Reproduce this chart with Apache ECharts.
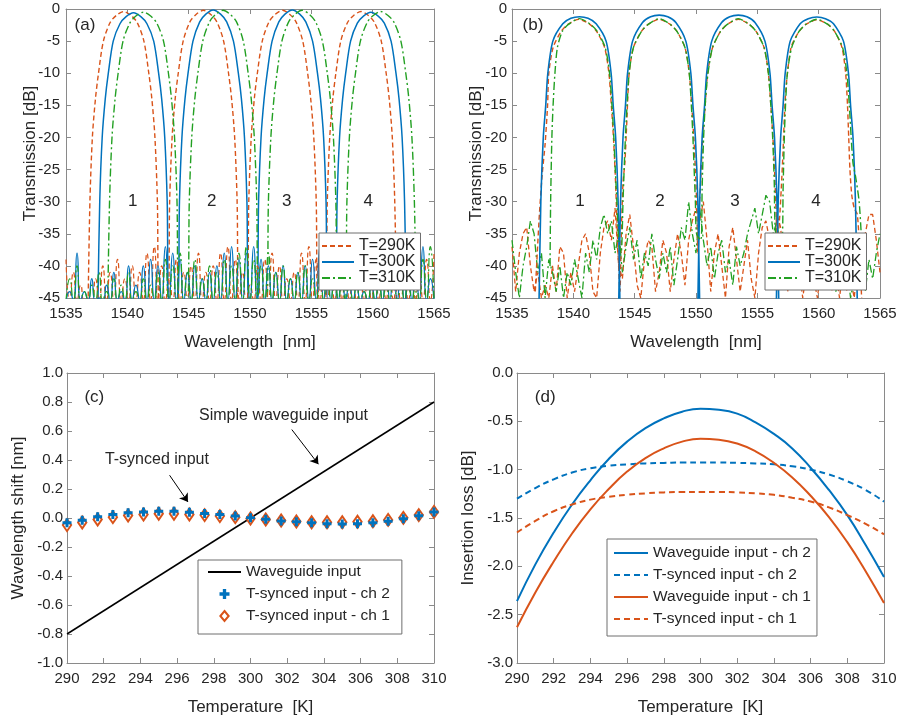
<!DOCTYPE html>
<html><head><meta charset="utf-8">
<script src="https://cdn.jsdelivr.net/npm/echarts@6.0.0/dist/echarts.min.js"></script>
<style>html,body{margin:0;padding:0;background:#fff}#c{width:901px;height:724px}</style>
</head><body><div id="c"></div><script>
// ================= DATA =================
// Panel (a): simple waveguide input, main lobes [wavelength nm, dB]
const a290 = [[1536.8,-46],[1536.95,-30],[1537.15,-20],[1537.4,-14],[1537.65,-10],[1538.05,-5],[1538.6,-2.1],[1539.1,-1.0],[1539.7,-0.4],[1540.3,-1.0],[1540.8,-2.1],[1541.35,-5],[1541.75,-10],[1542.0,-14],[1542.25,-20],[1542.45,-30],[1542.6,-46],
[1543.3,-46],[1543.45,-30],[1543.65,-20],[1543.9,-14],[1544.15,-10],[1544.55,-5],[1545.1,-2.0],[1545.6,-0.85],[1546.2,-0.2],[1546.8,-0.85],[1547.3,-2.0],[1547.85,-5],[1548.25,-10],[1548.5,-14],[1548.75,-20],[1548.95,-30],[1549.1,-46],
[1549.75,-46],[1549.9,-30],[1550.1,-20],[1550.35,-14],[1550.6,-10],[1551.0,-5],[1551.55,-2.0],[1552.05,-0.85],[1552.65,-0.2],[1553.25,-0.85],[1553.75,-2.0],[1554.3,-5],[1554.7,-10],[1554.95,-14],[1555.2,-20],[1555.4,-30],[1555.55,-46],
[1556.15,-46],[1556.3,-30],[1556.5,-20],[1556.75,-14],[1557.0,-10],[1557.4,-5],[1557.95,-2.1],[1558.45,-1.0],[1559.05,-0.4],[1559.65,-1.0],[1560.15,-2.1],[1560.7,-5],[1561.1,-10],[1561.35,-14],[1561.6,-20],[1561.8,-30],[1561.95,-46]];
const a300 = [[1537.6,-46],[1537.75,-30],[1537.95,-20],[1538.2,-14],[1538.45,-10],[1538.85,-5],[1539.4,-2.3],[1539.9,-1.2],[1540.5,-0.6],[1541.1,-1.2],[1541.6,-2.3],[1542.15,-5],[1542.55,-10],[1542.8,-14],[1543.05,-20],[1543.25,-30],[1543.4,-46],
[1544.1,-46],[1544.25,-30],[1544.45,-20],[1544.7,-14],[1544.95,-10],[1545.35,-5],[1545.9,-2.0],[1546.4,-0.8],[1547.0,-0.15],[1547.6,-0.8],[1548.1,-2.0],[1548.65,-5],[1549.05,-10],[1549.3,-14],[1549.55,-20],[1549.75,-30],[1549.9,-46],
[1550.55,-46],[1550.7,-30],[1550.9,-20],[1551.15,-14],[1551.4,-10],[1551.8,-5],[1552.35,-2.0],[1552.85,-0.8],[1553.45,-0.15],[1554.05,-0.8],[1554.55,-2.0],[1555.1,-5],[1555.5,-10],[1555.75,-14],[1556.0,-20],[1556.2,-30],[1556.35,-46],
[1556.95,-46],[1557.1,-30],[1557.3,-20],[1557.55,-14],[1557.8,-10],[1558.2,-5],[1558.75,-2.2],[1559.25,-1.1],[1559.85,-0.5],[1560.45,-1.1],[1560.95,-2.2],[1561.5,-5],[1561.9,-10],[1562.15,-14],[1562.4,-20],[1562.6,-30],[1562.75,-46]];
const a310 = [[1538.4,-46],[1538.55,-30],[1538.75,-20],[1539.0,-14],[1539.25,-10],[1539.65,-5],[1540.2,-2.2],[1540.7,-1.1],[1541.3,-0.5],[1541.9,-1.1],[1542.4,-2.2],[1542.95,-5],[1543.35,-10],[1543.6,-14],[1543.85,-20],[1544.05,-30],[1544.2,-46],
[1544.9,-46],[1545.05,-30],[1545.25,-20],[1545.5,-14],[1545.75,-10],[1546.15,-5],[1546.7,-2.0],[1547.2,-0.85],[1547.8,-0.2],[1548.4,-0.85],[1548.9,-2.0],[1549.45,-5],[1549.85,-10],[1550.1,-14],[1550.35,-20],[1550.55,-30],[1550.7,-46],
[1551.35,-46],[1551.5,-30],[1551.7,-20],[1551.95,-14],[1552.2,-10],[1552.6,-5],[1553.15,-2.0],[1553.65,-0.85],[1554.25,-0.2],[1554.85,-0.85],[1555.35,-2.0],[1555.9,-5],[1556.3,-10],[1556.55,-14],[1556.8,-20],[1557.0,-30],[1557.15,-46],
[1557.75,-46],[1557.9,-30],[1558.1,-20],[1558.35,-14],[1558.6,-10],[1559.0,-5],[1559.55,-2.1],[1560.05,-1.0],[1560.65,-0.4],[1561.25,-1.0],[1561.75,-2.1],[1562.3,-5],[1562.7,-10],[1562.95,-14],[1563.2,-20],[1563.4,-30],[1563.55,-46]];

// sidelobe / noise floor sampling wavelengths
const sideX = [1535.0,1535.3,1535.6,1535.9,1536.2,1536.5,1536.8,1537.1,1537.4,1537.7,
1538.0,1538.3,1538.6,1538.9,1539.2,1539.5,1539.8,1540.1,1540.4,1540.7,
1541.0,1541.3,1541.6,1541.9,1542.2,1542.5,1542.8,1543.1,1543.4,1543.7,
1544.0,1544.3,1544.6,1544.9,1545.2,1545.5,1545.8,1546.1,1546.4,1546.7,
1547.0,1547.3,1547.6,1547.9,1548.2,1548.5,1548.8,1549.1,1549.4,1549.7,
1550.0,1550.3,1550.6,1550.9,1551.2,1551.5,1551.8,1552.1,1552.4,1552.7,
1553.0,1553.3,1553.6,1553.9,1554.2,1554.5,1554.8,1555.1,1555.4,1555.7,
1556.0,1556.3,1556.6,1556.9,1557.2,1557.5,1557.8,1558.1,1558.4,1558.7,
1559.0,1559.3,1559.6,1559.9,1560.2,1560.5,1560.8,1561.1,1561.4,1561.7,
1562.0,1562.3,1562.6,1562.9,1563.2,1563.5,1563.8,1564.1,1564.4,1564.7,
1565.0];
const a290Side = [-39,-45.5,-41,-45.5,-43,-45.5,-45,-45.5,-42,-45.5,
-40,-45.5,-41,-45.5,-39,-45.5,-42,-45.5,-40,-45.5,
-41,-45.5,-38,-45.5,-37,-45.5,-40,-45.5,-42,-45.5,
-39,-45.5,-41,-45.5,-40,-45.5,-38,-45.5,-41,-45.5,
-40,-45.5,-38,-45.5,-37,-45.5,-39,-45.5,-41,-45.5,
-43,-45.5,-40,-45.5,-39,-45.5,-38,-45.5,-40,-45.5,
-42,-45.5,-41,-45.5,-38,-45.5,-37,-45.5,-39,-45.5,
-41,-45.5,-42,-45.5,-40,-45.5,-38,-45.5,-40,-45.5,
-42,-45.5,-41,-45.5,-39,-45.5,-38,-45.5,-40,-45.5,
-41,-45.5,-42,-45.5,-40,-45.5,-41,-45.5,-39,-45.5,
-38];
const a300Side = [-45.5,-44,-45.5,-38,-45.5,-44,-45.5,-42,-45.5,-45,
-45.5,-43,-45.5,-41,-45.5,-44,-45.5,-40,-45.5,-43,
-45.5,-40,-45.5,-39,-45.5,-40,-45.5,-37,-45.5,-38,
-45.5,-39,-45.5,-41,-45.5,-40,-45.5,-42,-45.5,-41,
-45.5,-40,-45.5,-38,-45.5,-37,-45.5,-39,-45.5,-38,
-45.5,-37,-45.5,-39,-45.5,-40,-45.5,-41,-45.5,-40,
-45.5,-42,-45.5,-41,-45.5,-40,-45.5,-39,-45.5,-37,
-45.5,-38,-45.5,-39,-45.5,-41,-45.5,-42,-45.5,-43,
-45.5,-44,-45.5,-43,-45.5,-41,-45.5,-40,-45.5,-39,
-45.5,-40,-45.5,-41,-45.5,-39,-45.5,-37,-45.5,-42,
-45.5];
const a310Side = [-45.5,-42,-45.5,-40,-45.5,-44,-45.5,-43,-45.5,-41,
-45.5,-44,-45.5,-42,-45.5,-43,-45.5,-41,-45.5,-44,
-45.5,-42,-45.5,-43,-45.5,-41,-45.5,-39,-45.5,-40,
-45.5,-38,-45.5,-41,-45.5,-39,-45.5,-42,-45.5,-40,
-45.5,-41,-45.5,-39,-45.5,-40,-45.5,-38,-45.5,-37,
-45.5,-39,-45.5,-40,-45.5,-38,-45.5,-41,-45.5,-40,
-45.5,-42,-45.5,-41,-45.5,-40,-45.5,-42,-45.5,-41,
-45.5,-39,-45.5,-42,-45.5,-41,-45.5,-43,-45.5,-42,
-45.5,-44,-45.5,-42,-45.5,-43,-45.5,-41,-45.5,-42,
-45.5,-40,-45.5,-43,-45.5,-41,-45.5,-39,-45.5,-37,
-45.5];

// Panel (b): T-synced input
const b300 = [[1537.2,-46],[1537.35,-30],[1537.55,-20],[1537.75,-15],[1537.92,-10],[1538.33,-5],[1539.14,-2.3],[1539.8,-1.45],[1540.5,-1.2],[1541.2,-1.45],[1541.86,-2.3],[1542.67,-5],[1543.08,-10],[1543.25,-15],[1543.45,-20],[1543.65,-30],[1543.8,-46],
[1543.7,-46],[1543.85,-30],[1544.05,-20],[1544.25,-15],[1544.42,-10],[1544.83,-5],[1545.64,-2.1],[1546.3,-1.2],[1547.0,-0.95],[1547.7,-1.2],[1548.36,-2.1],[1549.17,-5],[1549.58,-10],[1549.75,-15],[1549.95,-20],[1550.15,-30],[1550.3,-46],
[1550.15,-46],[1550.3,-30],[1550.5,-20],[1550.7,-15],[1550.87,-10],[1551.28,-5],[1552.09,-2.1],[1552.75,-1.2],[1553.45,-0.95],[1554.15,-1.2],[1554.81,-2.1],[1555.62,-5],[1556.03,-10],[1556.2,-15],[1556.4,-20],[1556.6,-30],[1556.75,-46],
[1556.55,-46],[1556.7,-30],[1556.9,-20],[1557.1,-15],[1557.27,-10],[1557.68,-5],[1558.49,-2.3],[1559.15,-1.5],[1559.85,-1.25],[1560.55,-1.5],[1561.21,-2.3],[1562.02,-5],[1562.43,-10],[1562.6,-15],[1562.8,-20],[1563.0,-30],[1563.15,-46]];
const b290 = [[1536.9,-44],[1537.2,-33],[1537.45,-26],[1537.7,-21],[1537.9,-15],[1538.0,-10],[1538.35,-6],[1539.0,-3.5],[1539.55,-2.4],[1540.45,-1.6],[1541.35,-2.4],[1541.9,-3.5],[1542.55,-6],[1542.9,-10],[1543.1,-15],[1543.27,-20],[1543.4,-25],[1543.5,-30],[1543.65,-38],[1543.8,-44],
[1543.9,-36],[1544.05,-27],[1544.2,-24],[1544.35,-18],[1544.55,-10],[1544.9,-6],[1545.55,-3.5],[1546.1,-2.4],[1547.0,-1.6],[1547.9,-2.4],[1548.45,-3.5],[1549.1,-6],[1549.45,-10],[1549.65,-15],[1549.82,-20],[1549.95,-25],[1550.05,-30],[1550.15,-38],
[1550.2,-33],[1550.35,-28],[1550.55,-20],[1550.75,-15],[1550.95,-10],[1551.35,-6],[1552.0,-3.5],[1552.55,-2.4],[1553.45,-1.6],[1554.35,-2.4],[1554.9,-3.5],[1555.55,-6],[1555.9,-10],[1556.1,-15],[1556.27,-20],[1556.4,-25],[1556.5,-30],[1556.65,-36],
[1556.8,-33],[1556.95,-28],[1557.1,-22],[1557.2,-17],[1557.35,-12],[1557.75,-6],[1558.4,-3.5],[1558.95,-2.4],[1559.85,-1.7],[1560.75,-2.4],[1561.3,-3.5],[1561.9,-6],[1562.2,-10],[1562.35,-15],[1562.45,-20],[1562.55,-25],[1562.7,-29],[1562.9,-31],[1563.15,-32],[1563.35,-38],[1563.5,-45]];
const b310 = [[1538.1,-40],[1538.15,-30],[1538.25,-20],[1538.35,-15],[1538.5,-10],[1538.7,-6],[1539.1,-3.5],[1539.6,-2.4],[1540.5,-1.5],[1541.4,-2.4],[1541.95,-3.5],[1542.6,-6],[1542.95,-10],[1543.15,-15],[1543.3,-20],[1543.42,-25],[1543.55,-30],[1543.7,-36],
[1543.9,-38],[1544.05,-30],[1544.2,-22],[1544.35,-16],[1544.55,-10],[1544.9,-6],[1545.55,-3.5],[1546.1,-2.4],[1547.0,-1.5],[1547.9,-2.4],[1548.45,-3.5],[1549.1,-6],[1549.45,-10],[1549.62,-15],[1549.75,-20],[1549.85,-25],[1549.95,-30],[1550.05,-35],
[1550.4,-36],[1550.5,-28],[1550.62,-20],[1550.78,-14],[1550.98,-10],[1551.35,-6],[1552.0,-3.5],[1552.55,-2.4],[1553.45,-1.5],[1554.35,-2.4],[1554.9,-3.5],[1555.55,-6],[1555.9,-10],[1556.1,-15],[1556.25,-20],[1556.38,-27],[1556.5,-35],
[1557.0,-36],[1557.1,-28],[1557.2,-20],[1557.32,-14],[1557.45,-10],[1557.8,-6],[1558.4,-3.5],[1558.95,-2.4],[1559.85,-1.6],[1560.75,-2.4],[1561.3,-3.5],[1561.95,-6],[1562.3,-10],[1562.5,-15],[1562.65,-20],[1562.8,-24],[1563.0,-26],[1563.3,-30],[1563.5,-36],[1563.7,-42]];
const b290Noise = [-37,-44,-38,-35,-34,-40,-44,-41,-45,-43,
-45,-40,-44,-37,-38,-45,-41,-44,-40,-36,
-35,-38,-44,-45,-38,-34,-33,-36,-31,-40,
-42,-35,-32,-37,-43,-45,-39,-36,-37,-44,
-41,-36,-38,-44,-39,-35,-38,-43,-36,-33,
-31,-33,-30,-36,-44,-38,-35,-40,-45,-37,
-34,-39,-44,-40,-36,-42,-45,-38,-34,-33,
-36,-39,-32,-34,-41,-44,-39,-43,-40,-45,
-41,-37,-42,-45,-40,-43,-38,-44,-41,-45,
-40,-44,-42,-45,-39,-43,-35,-32,-32,-36,
-41];
const b310Noise = [-36,-41,-45,-40,-37,-33,-35,-41,-38,-45,
-39,-41,-44,-40,-45,-41,-43,-39,-42,-45,
-38,-41,-36,-39,-34,-32,-35,-33,-38,-35,
-41,-37,-34,-39,-36,-42,-38,-40,-35,-39,
-42,-38,-41,-37,-43,-39,-34,-36,-30,-35,
-38,-31,-36,-40,-37,-42,-38,-36,-41,-39,
-43,-37,-40,-38,-35,-33,-31,-35,-32,-29,
-30,-35,-33,-38,-36,-40,-35,-38,-42,-39,
-37,-41,-39,-43,-40,-38,-42,-39,-44,-41,
-43,-40,-45,-42,-38,-41,-44,-39,-42,-38,
-35];
const lobeNames = ['1','2','3','4'];
const lobeXa = [1540.43, 1546.87, 1552.99, 1559.64];
const lobeXb = [1540.54, 1547.06, 1553.17, 1559.78];
const lobeY = -30;

// Panel (c): wavelength shift vs temperature
const tempC = [290,290.83,291.67,292.5,293.33,294.17,295,295.83,296.67,297.5,298.33,299.17,300,300.83,301.67,302.5,303.33,304.17,305,305.83,306.67,307.5,308.33,309.17,310];
const shiftCh2 = [-0.033,-0.015,0.008,0.024,0.036,0.042,0.047,0.047,0.040,0.031,0.024,0.013,0.001,-0.008,-0.020,-0.026,-0.033,-0.040,-0.042,-0.040,-0.033,-0.022,-0.006,0.015,0.042];
const shiftCh1 = [-0.049,-0.031,-0.010,0.006,0.017,0.024,0.029,0.029,0.024,0.020,0.013,0.006,-0.003,-0.010,-0.017,-0.024,-0.029,-0.029,-0.029,-0.026,-0.022,-0.013,0.001,0.020,0.042];
const wgTemp = [290, 310];
const wgShift = [-0.8, 0.8];

// Panel (d): insertion loss vs temperature
const tempD = [290,291,292,293,294,295,296,297,298,299,300,301,302,303,304,305,306,307,308,309,310];
const ilWgCh2 = [-2.36,-1.98,-1.65,-1.36,-1.11,-0.89,-0.71,-0.57,-0.47,-0.40,-0.37,-0.38,-0.42,-0.51,-0.63,-0.78,-0.98,-1.21,-1.47,-1.78,-2.11];
const ilTsCh2 = [-1.30,-1.19,-1.10,-1.03,-0.985,-0.96,-0.945,-0.935,-0.93,-0.925,-0.925,-0.925,-0.93,-0.935,-0.945,-0.965,-1.0,-1.05,-1.12,-1.21,-1.33];
const ilWgCh1 = [-2.63,-2.27,-1.95,-1.66,-1.41,-1.20,-1.02,-0.88,-0.78,-0.71,-0.68,-0.69,-0.73,-0.81,-0.93,-1.08,-1.27,-1.49,-1.75,-2.05,-2.38];
const ilTsCh1 = [-1.65,-1.53,-1.43,-1.36,-1.31,-1.28,-1.26,-1.245,-1.235,-1.23,-1.23,-1.23,-1.235,-1.245,-1.26,-1.29,-1.33,-1.39,-1.47,-1.56,-1.67];

// ================= STYLE / BUILD =================
const BLUE = '#0072BD', ORANGE = '#D95319', GREEN = '#22A022', BLACK = '#000000';
const AX = '#8a8a8a', TXT = '#262626';
const FONT = '"Liberation Sans", Arial, Helvetica, sans-serif';
const zip = (xs, ys) => xs.map((x, i) => [x, ys[i]]);
const fmt0 = v => String(v);
const fmt1 = v => (Math.abs(v) < 1e-9 ? '0.0' : v.toFixed(1));

const grids = [
  {left: 66, top: 9, width: 368, height: 289},
  {left: 512, top: 9, width: 368, height: 289},
  {left: 67, top: 373, width: 367, height: 290},
  {left: 517, top: 373, width: 367, height: 290}
];
const xAxes = [], yAxes = [];
function addX(g, min, max, interval, name, nameGap, fmt) {
  const base = {type: 'value', gridIndex: g, min, max, interval, splitLine: {show: false},
    axisLine: {onZero: false, lineStyle: {color: AX, width: 1}},
    axisTick: {inside: true, length: 5, lineStyle: {color: AX}}};
  xAxes.push(Object.assign({}, base, {position: 'bottom', name, nameLocation: 'middle', nameGap, nameMoveOverlap: false,
    nameTextStyle: {fontSize: 17, color: TXT, fontFamily: FONT},
    axisLabel: {fontSize: 15, color: TXT, margin: 8, fontFamily: FONT, formatter: fmt}}));
  xAxes.push(Object.assign({}, base, {position: 'top', axisLabel: {show: false}}));
}
function addY(g, min, max, interval, name, nameGap, margin, fmt) {
  const base = {type: 'value', gridIndex: g, min, max, interval, splitLine: {show: false},
    axisLine: {onZero: false, lineStyle: {color: AX, width: 1}},
    axisTick: {inside: true, length: 5, lineStyle: {color: AX}}};
  yAxes.push(Object.assign({}, base, {position: 'left', name, nameLocation: 'middle', nameGap, nameMoveOverlap: false,
    nameTextStyle: {fontSize: 17, color: TXT, fontFamily: FONT},
    axisLabel: {fontSize: 15, color: TXT, margin, fontFamily: FONT, formatter: fmt}}));
  yAxes.push(Object.assign({}, base, {position: 'right', axisLabel: {show: false}}));
}
addX(0, 1535, 1565, 5, 'Wavelength  [nm]', 36, fmt0);
addY(0, -45, 0, 5, 'Transmission [dB]', 27, 6, fmt0);
addX(1, 1535, 1565, 5, 'Wavelength  [nm]', 36, fmt0);
addY(1, -45, 0, 5, 'Transmission [dB]', 27, 5, fmt0);
addX(2, 290, 310, 2, 'Temperature  [K]', 36, fmt0);
addY(2, -1, 1, 0.2, 'Wavelength shift [nm]', 40, 4, fmt1);
addX(3, 290, 310, 2, 'Temperature  [K]', 36, fmt0);
addY(3, -3, 0, 0.5, 'Insertion loss [dB]', 40, 4, fmt1);

const txtPoint = (name, coord, size) => ({name, coord, label: {fontSize: size}});
function labelMarks(items) {
  return {symbol: 'rect', symbolSize: 1, silent: true, itemStyle: {color: 'rgba(0,0,0,0)'},
    label: {show: true, position: 'inside', formatter: '{b}', color: TXT, fontSize: 16, fontFamily: FONT},
    data: items};
}
function lineS(name, g, data, color, type, width, smooth, extra) {
  return Object.assign({name, type: 'line', xAxisIndex: g * 2, yAxisIndex: g * 2, data,
    symbol: 'none', showSymbol: false, smooth, clip: true,
    lineStyle: {color, width, type}, itemStyle: {color}}, extra || {});
}
const DASH = [5, 3], DASHDOT = [8, 3, 2, 3];
const series = [];
// (a)
series.push(lineS('T=290K', 0, a290, ORANGE, DASH, 1.4, 0.3));
series.push(lineS('T=300K', 0, a300, BLUE, 'solid', 1.5, 0.3, {
  markPoint: labelMarks(lobeNames.map((t, i) => txtPoint(t, [lobeXa[i], lobeY], 17)).concat([txtPoint('(a)', [1536.55, -2.5], 17)]))
}));
series.push(lineS('T=310K', 0, a310, GREEN, DASHDOT, 1.4, 0.3));
series.push(lineS('T=290K', 0, zip(sideX, a290Side), ORANGE, DASH, 1.2, 0.6));
series.push(lineS('T=300K', 0, zip(sideX, a300Side), BLUE, 'solid', 1.3, 0.6));
series.push(lineS('T=310K', 0, zip(sideX, a310Side), GREEN, DASHDOT, 1.2, 0.6));
// (b)
series.push(lineS('T=290K', 1, zip(sideX, b290Noise), ORANGE, DASH, 1.3, false));
series.push(lineS('T=310K', 1, zip(sideX, b310Noise), GREEN, DASHDOT, 1.3, false));
series.push(lineS('T=290K', 1, b290, ORANGE, DASH, 1.4, 0.25));
series.push(lineS('T=300K', 1, b300, BLUE, 'solid', 1.6, 0.25, {
  markPoint: labelMarks(lobeNames.map((t, i) => txtPoint(t, [lobeXb[i], lobeY], 17)).concat([txtPoint('(b)', [1536.71, -2.5], 17)]))
}));
series.push(lineS('T=310K', 1, b310, GREEN, DASHDOT, 1.4, 0.25));
// (c)
series.push(lineS('Waveguide input', 2, zip(wgTemp, wgShift), BLACK, 'solid', 1.5, false, {
  markLine: {silent: true, symbol: ['none', 'arrow'], symbolSize: 8, label: {show: false},
    lineStyle: {color: BLACK, width: 1, type: 'solid'}, emphasis: {disabled: true},
    data: [[{coord: [302.25, 0.610]}, {coord: [303.70, 0.371]}], [{coord: [295.59, 0.295]}, {coord: [296.59, 0.111]}]]},
  markPoint: labelMarks([txtPoint('Simple waveguide input', [301.80, 0.709], 16), txtPoint('T-synced input', [294.90, 0.403], 16), txtPoint('(c)', [291.49, 0.834], 17)])
}));
const DIAMOND = 'path://M5,0L10,6L5,12L0,6Z';
const PLUS = 'path://M3,0H6V3H9V6H6V9H3V6H0V3H3Z';
series.push({name: 'T-synced input - ch 1', type: 'scatter', xAxisIndex: 4, yAxisIndex: 4, data: zip(tempC, shiftCh1),
  symbol: DIAMOND, symbolSize: [10, 12], symbolKeepAspect: true,
  itemStyle: {color: '#ffffff', borderColor: ORANGE, borderWidth: 2, opacity: 1}, z: 3});
series.push({name: 'T-synced input - ch 2', type: 'scatter', xAxisIndex: 4, yAxisIndex: 4, data: zip(tempC, shiftCh2),
  symbol: PLUS, symbolSize: 9, symbolKeepAspect: true, itemStyle: {color: BLUE, opacity: 1}, z: 4});
// (d)
series.push(lineS('Waveguide input - ch 2', 3, zip(tempD, ilWgCh2), BLUE, 'solid', 2, true, {
  markPoint: labelMarks([txtPoint('(d)', [291.54, -0.248], 17)])}));
series.push(lineS('T-synced input - ch 2 ', 3, zip(tempD, ilTsCh2), BLUE, [6, 4], 2, true));
series.push(lineS('Waveguide input - ch 1', 3, zip(tempD, ilWgCh1), ORANGE, 'solid', 2, true));
series.push(lineS('T-synced input - ch 1 ', 3, zip(tempD, ilTsCh1), ORANGE, [6, 4], 2, true));

const HIDE = {color: 'rgba(0,0,0,0)', borderWidth: 0, opacity: 0};
const lineItem = n => ({name: n, itemStyle: HIDE});
const legBase = {orient: 'vertical', selectedMode: false, borderColor: '#6e6e6e', borderWidth: 1,
  backgroundColor: '#ffffff', borderRadius: 0, formatter: n => n.trim(), symbolKeepAspect: true,
  textStyle: {color: TXT, fontFamily: FONT}};
const legends = [
  Object.assign({}, legBase, {left: 319, top: 233, itemWidth: 32, itemHeight: 12, itemGap: 0, padding: [5, 5, 4, 2],
    textStyle: Object.assign({}, legBase.textStyle, {fontSize: 16}), data: ['T=290K', 'T=300K', 'T=310K'].map(lineItem)}),
  Object.assign({}, legBase, {left: 765, top: 233, itemWidth: 32, itemHeight: 12, itemGap: 0, padding: [5, 5, 4, 2],
    textStyle: Object.assign({}, legBase.textStyle, {fontSize: 16}), data: ['T=290K', 'T=300K', 'T=310K'].map(lineItem)}),
  Object.assign({}, legBase, {left: 198, top: 560, itemWidth: 33, itemHeight: 10, itemGap: 6, padding: [4, 12, 10, 9],
    textStyle: Object.assign({}, legBase.textStyle, {fontSize: 15.5}),
    data: [lineItem('Waveguide input'), {name: 'T-synced input - ch 2'}, {name: 'T-synced input - ch 1'}]}),
  Object.assign({}, legBase, {left: 607, top: 539, itemWidth: 34, itemHeight: 10, itemGap: 6, padding: [6, 6, 9, 6],
    textStyle: Object.assign({}, legBase.textStyle, {fontSize: 15.5}),
    data: ['Waveguide input - ch 2', 'T-synced input - ch 2 ', 'Waveguide input - ch 1', 'T-synced input - ch 1 '].map(lineItem)})
];

const chart = echarts.init(document.getElementById('c'), null, {renderer: 'canvas'});
chart.setOption({
  animation: false,
  backgroundColor: '#ffffff',
  textStyle: {fontFamily: FONT},
  grid: grids,
  xAxis: xAxes,
  yAxis: yAxes,
  legend: legends,
  series
});
</script></body></html>
